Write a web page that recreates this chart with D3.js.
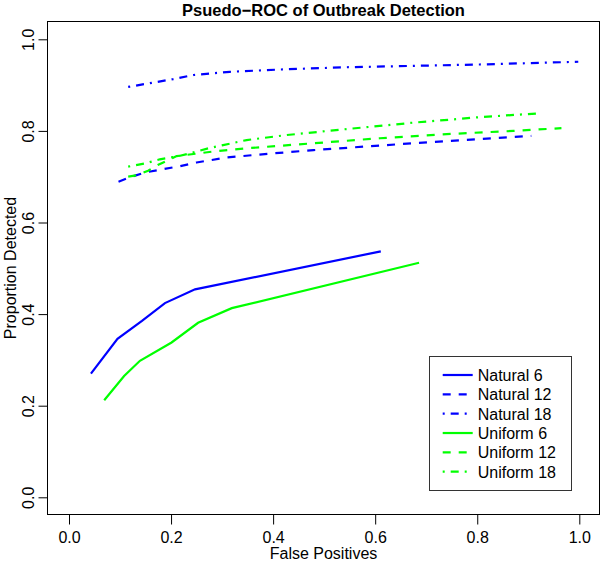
<!DOCTYPE html>
<html><head><meta charset="utf-8">
<script src="https://cdn.jsdelivr.net/npm/d3@7"></script>
<style>
body{margin:0;background:#fff;}
svg{display:block;}
text{font-family:"Liberation Sans",Arial,Helvetica,sans-serif;fill:#000;}
</style></head>
<body><svg id="c" width="600" height="567"></svg>
<script>
// ---- data ----
const title = "Psuedo\u2212ROC of Outbreak Detection";
const xLabel = "False Positives";
const yLabel = "Proportion Detected";
const xTicks = [0, 0.2, 0.4, 0.6, 0.8, 1.0];
const yTicks = [0, 0.2, 0.4, 0.6, 0.8, 1.0];
const seriesNames = ["Natural 6","Natural 12","Natural 18","Uniform 6","Uniform 12","Uniform 18"];
const seriesColors = ["#0000ff","#0000ff","#0000ff","#00ff00","#00ff00","#00ff00"];
const seriesDash = ["none","8,8","2,6,8,6","none","8,8","2,6,8,6"];

const nat6X = [0.043, 0.095, 0.143, 0.188, 0.247, 0.611];
const nat6Y = [0.270, 0.346, 0.385, 0.424, 0.454, 0.537];
const nat12X = [0.097, 0.12, 0.152, 0.182, 0.218, 0.25, 0.309, 0.40, 0.479, 0.674, 0.906];
const nat12Y = [0.689, 0.699, 0.710, 0.716, 0.723, 0.731, 0.742, 0.751, 0.758, 0.773, 0.789];
const nat18X = [0.116, 0.204, 0.244, 0.315, 0.413, 0.544, 0.675, 0.805, 0.998];
const nat18Y = [0.896, 0.913, 0.922, 0.929, 0.934, 0.939, 0.942, 0.945, 0.951];
const uni6X = [0.069, 0.108, 0.139, 0.201, 0.253, 0.319, 0.686];
const uni6Y = [0.212, 0.265, 0.298, 0.338, 0.381, 0.413, 0.512];
const uni12X = [0.116, 0.133, 0.155, 0.175, 0.211, 0.283, 0.348, 0.479, 0.609, 0.740, 0.871, 0.965];
const uni12Y = [0.700, 0.703, 0.713, 0.726, 0.745, 0.755, 0.762, 0.773, 0.784, 0.793, 0.800, 0.806];
const uni18X = [0.116, 0.149, 0.178, 0.211, 0.237, 0.273, 0.302, 0.348, 0.427, 0.544, 0.675, 0.805, 0.916];
const uni18Y = [0.722, 0.729, 0.738, 0.744, 0.751, 0.762, 0.769, 0.780, 0.791, 0.804, 0.818, 0.830, 0.838];

const seriesX = [nat6X, nat12X, nat18X, uni6X, uni12X, uni18X];
const seriesY = [nat6Y, nat12Y, nat18Y, uni6Y, uni12Y, uni18Y];

// ---- layout ----
const svg = d3.select("#c");
const frame = {l:47.5, r:599.5, t:21.5, b:514.5};
const x = d3.scaleLinear().domain([0,1]).range([69, 579.3]);
const y = d3.scaleLinear().domain([0,1]).range([497.3, 39.3]);

// title
svg.append("text").attr("x", (frame.l+frame.r)/2).attr("y", 16)
  .attr("text-anchor","middle").attr("font-size",16.5).attr("font-weight","bold").text(title);

// lines
const line = d3.line().x(d=>x(d[0])).y(d=>y(d[1]));
seriesNames.forEach((n,i)=>{
  const pts = seriesX[i].map((v,j)=>[v, seriesY[i][j]]);
  svg.append("path").attr("d", line(pts)).attr("fill","none")
    .attr("stroke", seriesColors[i]).attr("stroke-width",2.2)
    .attr("stroke-dasharray", seriesDash[i]==="none"?null:seriesDash[i]);
});

// frame
svg.append("rect").attr("x",frame.l).attr("y",frame.t)
  .attr("width",frame.r-frame.l).attr("height",frame.b-frame.t)
  .attr("fill","none").attr("stroke","#000").attr("stroke-width",1);

// x axis
const xAxis = d3.axisBottom(x).tickValues(xTicks).tickFormat(d3.format(".1f")).tickSize(10).tickPadding(7);
const gx = svg.append("g").attr("transform",`translate(0,${frame.b})`).call(xAxis);
gx.select(".domain").attr("stroke","none");
gx.selectAll("text").attr("font-size",16).attr("font-family","Liberation Sans, Arial, sans-serif");
gx.selectAll("line").attr("stroke","#000");

// y axis
const yAxis = d3.axisLeft(y).tickValues(yTicks).tickFormat(d3.format(".1f")).tickSize(9).tickPadding(7);
const gy = svg.append("g").attr("transform",`translate(${frame.l},0)`).call(yAxis);
gy.select(".domain").attr("stroke","none");
gy.selectAll("line").attr("stroke","#000");
gy.selectAll(".tick text").attr("font-size",16).attr("font-family","Liberation Sans, Arial, sans-serif")
  .attr("text-anchor","middle").attr("dy",null).attr("x",null)
  .attr("transform","translate(-13.5,0) rotate(-90)");

// axis titles
svg.append("text").attr("x",(frame.l+frame.r)/2).attr("y",559)
  .attr("text-anchor","middle").attr("font-size",16).text(xLabel);
svg.append("text").attr("transform",`translate(16,${(frame.t+frame.b)/2}) rotate(-90)`)
  .attr("text-anchor","middle").attr("font-size",16).text(yLabel);

// legend
const lg = svg.append("g");
lg.append("rect").attr("x",429.5).attr("y",356.5).attr("width",142).attr("height",134)
  .attr("fill","#fff").attr("stroke","#333").attr("stroke-width",1);
const rowY = d3.scaleLinear().domain([0,5]).range([375, 471.7]);
seriesNames.forEach((n,i)=>{
  lg.append("line").attr("x1",442.7).attr("x2",472.7).attr("y1",rowY(i)).attr("y2",rowY(i))
    .attr("stroke",seriesColors[i]).attr("stroke-width",2.2)
    .attr("stroke-dasharray", seriesDash[i]==="none"?null:seriesDash[i]);
  lg.append("text").attr("x",477.7).attr("y",rowY(i)+6).attr("font-size",16).text(n);
});
</script></body></html>
